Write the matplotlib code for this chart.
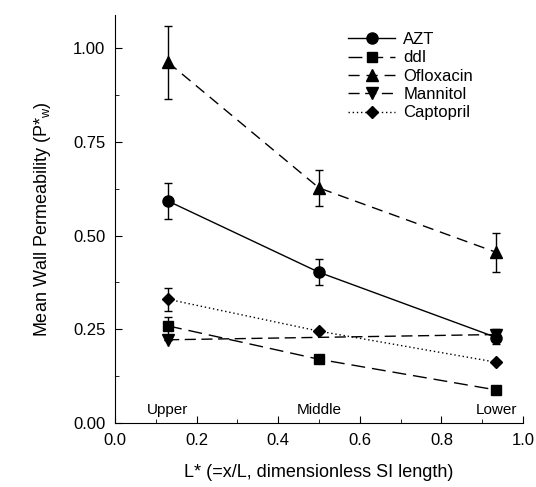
import matplotlib
matplotlib.use('Agg')
import matplotlib.pyplot as plt
from matplotlib.ticker import MultipleLocator

plt.rcParams['font.family'] = ['Liberation Sans', 'DejaVu Sans']

# segment positions (dimensionless length)
x_seg = [0.13, 0.50, 0.935]
seg_labels = ['Upper', 'Middle', 'Lower']

azt = [0.592, 0.402, 0.228]
azt_err = [0.048, 0.035, 0.018]
ddi = [0.259, 0.170, 0.088]
ddi_err = [0.025, 0.0, 0.0]
oflox = [0.962, 0.627, 0.455]
oflox_err = [0.098, 0.048, 0.052]
mannitol_x = [0.13, 0.935]
mannitol = [0.222, 0.236]
mannitol_err = [0.0, 0.015]
capto = [0.330, 0.245, 0.162]
capto_err = [0.030, 0.0, 0.0]

fig = plt.figure(figsize=(5.36, 4.87), dpi=100)
ax = fig.add_axes([0.2146, 0.1314, 0.7611, 0.8376])

ms = 7
ekw = dict(ecolor='black', elinewidth=1, capsize=3, capthick=1)
h1 = ax.errorbar(x_seg, azt, yerr=azt_err, color='black', ls='-', lw=1,
                 marker='o', ms=ms + 1, label='AZT', zorder=5, **ekw)
h2 = ax.errorbar(x_seg, ddi, yerr=ddi_err, color='black', ls=(0, (10, 5)), lw=1,
                 marker='s', ms=ms, label='ddI', **ekw)
h3 = ax.errorbar(x_seg, oflox, yerr=oflox_err, color='black', ls=(0, (8, 5)), lw=1,
                 marker='^', ms=ms + 1, label='Ofloxacin', **ekw)
h4 = ax.errorbar(mannitol_x, mannitol, yerr=mannitol_err, color='black', ls=(0, (8, 4)),
                 lw=1, marker='v', ms=ms + 1, label='Mannitol', zorder=3, **ekw)
h5 = ax.errorbar(x_seg, capto, yerr=capto_err, color='black', ls=(0, (1, 2)), lw=1,
                 marker='D', ms=ms - 1, label='Captopril', **ekw)

for xs, lab in zip(x_seg, seg_labels):
    ax.text(xs, 0.035, lab, ha='center', va='center', fontsize=11)

ax.set_xlim(0, 1.0)
ax.set_ylim(0, 1.088)
ax.xaxis.set_major_locator(MultipleLocator(0.2))
ax.xaxis.set_minor_locator(MultipleLocator(0.1))
ax.yaxis.set_major_locator(MultipleLocator(0.25))
ax.yaxis.set_minor_locator(MultipleLocator(0.125))
ax.xaxis.set_major_formatter(plt.FormatStrFormatter('%.1f'))
ax.yaxis.set_major_formatter(plt.FormatStrFormatter('%.2f'))
ax.tick_params(which='both', direction='in', labelsize=12, pad=7)
ax.tick_params(which='major', length=5)
ax.tick_params(which='minor', length=3)
ax.spines['top'].set_visible(False)
ax.spines['right'].set_visible(False)

ax.set_xlabel('L* (=x/L, dimensionless SI length)', fontsize=13, labelpad=12)
ax.set_ylabel('Mean Wall Permeability (P*$_\\mathregular{w}$)', fontsize=13, labelpad=14)

handles = [h[0] for h in (h1, h2, h3, h4, h5)]
labels = ['AZT', 'ddI', 'Ofloxacin', 'Mannitol', 'Captopril']
ax.legend(handles, labels, loc='upper left', bbox_to_anchor=(0.535, 0.995),
          frameon=False, fontsize=12, handlelength=2.8, labelspacing=0.2,
          handletextpad=0.5)

fig.savefig('out.png', dpi=100)
